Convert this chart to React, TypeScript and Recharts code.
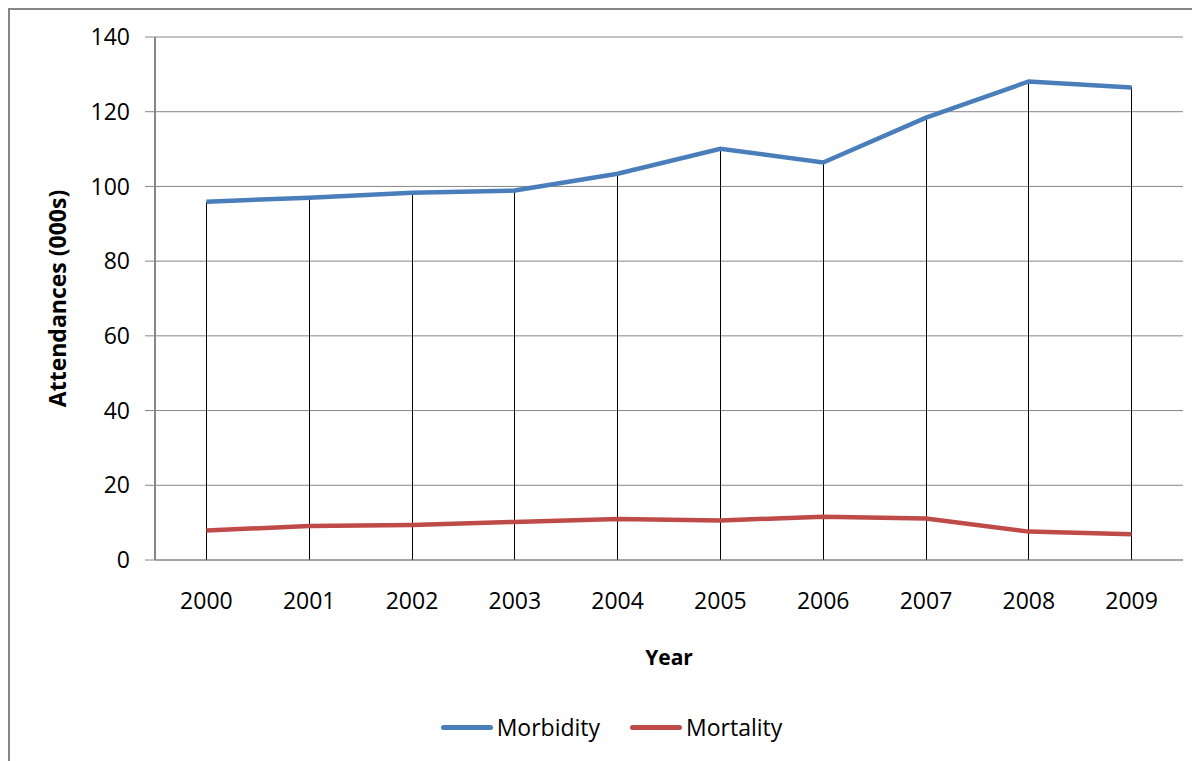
import { Bar, CartesianGrid, ComposedChart, Label, Legend, Line, XAxis, YAxis } from "recharts";

// Attendances in thousands
const years = ["2000", "2001", "2002", "2003", "2004", "2005", "2006", "2007", "2008", "2009"];
const morbidity = [95.9, 97.0, 98.3, 98.9, 103.4, 110.1, 106.4, 118.4, 128.1, 126.5];
const mortality = [7.9, 9.1, 9.4, 10.2, 11.0, 10.6, 11.6, 11.1, 7.6, 6.9];
const yTicks = [0, 20, 40, 60, 80, 100, 120, 140];

const BLUE = "#4A7EBB";
const RED = "#BE4B48";
const GREY = "#868686";
const FONT = "'Open Sans', sans-serif";

const data = years.map((year, i) => ({
  year,
  morbidity: morbidity[i],
  mortality: mortality[i],
}));

function AxisTitle({ viewBox }: any) {
  const cx = viewBox.x + 49;
  const cy = viewBox.y + viewBox.height / 2;
  return (
    <text
      x={cx}
      y={cy}
      transform={`rotate(-90, ${cx}, ${cy})`}
      textAnchor="middle"
      dominantBaseline="central"
      fontFamily={FONT}
      fontWeight={700}
      fontSize={23}
      fill="#000"
    >
      Attendances (000s)
    </text>
  );
}

function LegendContent({ payload }: any) {
  const items = (payload || []).filter((p: any) => p.type !== "none");
  return (
    <div
      style={{
        height: 72,
        paddingTop: 42,
        boxSizing: "border-box",
        display: "flex",
        justifyContent: "center",
        alignItems: "center",
        paddingLeft: 32,
        fontFamily: FONT,
        fontSize: 23,
        color: "#000",
      }}
    >
      {items.map((p: any, i: number) => (
        <div key={p.value} style={{ display: "flex", alignItems: "center", marginLeft: i ? 30 : 0 }}>
          <span style={{ display: "inline-block", width: 52, height: 5, borderRadius: 2.5, background: p.color, marginRight: 4 }} />
          <span style={{ lineHeight: "30px" }}>{p.value}</span>
        </div>
      ))}
    </div>
  );
}

export default function App() {
  return (
    <div style={{ position: "relative", width: 1192, height: 753, background: "#fff", fontFamily: FONT }}>
      <div
        style={{
          position: "absolute",
          left: -1,
          top: -1,
          right: 0,
          bottom: 0,
          borderTop: `3px solid ${GREY}`,
          borderLeft: `3px solid ${GREY}`,
          pointerEvents: "none",
        }}
      />
      <ComposedChart width={1192} height={753} data={data} margin={{ top: 29, right: 17, bottom: 19, left: 0 }}>
        <CartesianGrid vertical={false} stroke={GREY} strokeWidth={1} />
        <XAxis
          dataKey="year"
          height={110}
          axisLine={{ stroke: GREY, strokeWidth: 1 }}
          tickLine={false}
          tickSize={0}
          tickMargin={33}
          tick={{ fill: "#000", fontSize: 23, fontFamily: FONT }}
          interval={0}
        >
          <Label value="Year" position="insideBottom" offset={5} fill="#000" fontSize={21} fontWeight={700} fontFamily={FONT} />
        </XAxis>
        <YAxis
          width={147}
          domain={[0, 140]}
          ticks={yTicks}
          interval={0}
          axisLine={{ stroke: GREY, strokeWidth: 2 }}
          tickLine={{ stroke: GREY }}
          tickSize={10}
          tickMargin={15}
          tick={{ fill: "#000", fontSize: 23, fontFamily: FONT }}
        >
          <Label content={AxisTitle} />
        </YAxis>
        <Legend verticalAlign="bottom" content={LegendContent} />
        {/* drop lines from the top series down to the axis */}
        <Bar
          dataKey="morbidity"
          barSize={1}
          fill="#000"
          shapeRendering="crispEdges"
          legendType="none"
          isAnimationActive={false}
        />
        <Line type="linear" dataKey="morbidity" name="Morbidity" stroke={BLUE} strokeWidth={4.5} dot={false} activeDot={false} isAnimationActive={false} />
        <Line type="linear" dataKey="mortality" name="Mortality" stroke={RED} strokeWidth={4.5} dot={false} activeDot={false} isAnimationActive={false} />
      </ComposedChart>
    </div>
  );
}
